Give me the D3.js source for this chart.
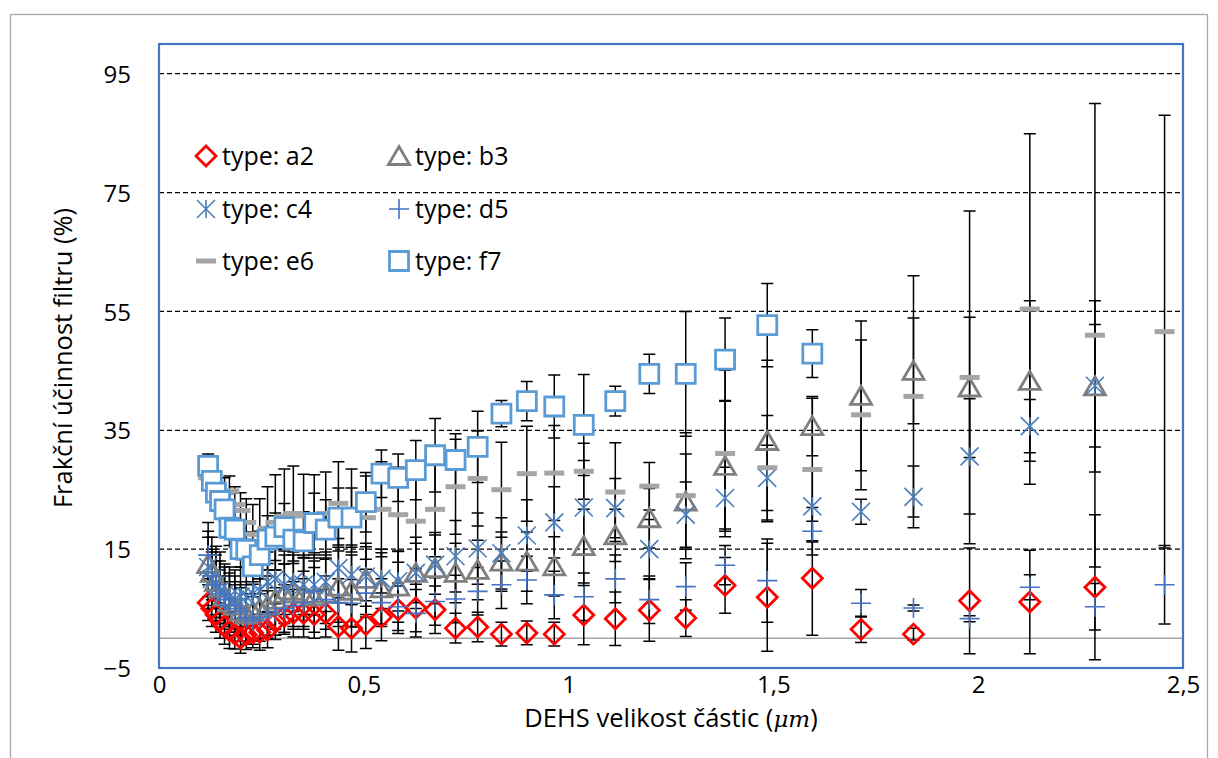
<!DOCTYPE html>
<html>
<head>
<meta charset="utf-8">
<script src="https://cdn.jsdelivr.net/npm/d3@7"></script>
<style>
  html, body { margin: 0; padding: 0; background: #fff; }
  svg { display: block; }
  text { font-family: "Open Sans", "Noto Sans", sans-serif; fill: #000; }
</style>
</head>
<body>
<svg id="chart" width="1218" height="758"></svg>
<script>
// Particle size channels (µm)
const sizes = [0.120,0.129,0.139,0.149,0.160,0.172,0.185,0.199,0.213,0.229,0.246,0.265,0.284,0.306,0.328,0.353,0.379,0.407,0.438,0.470,0.505,0.543,0.584,0.627,0.674,0.724,0.778,0.836,0.898,0.965,1.037,1.114,1.197,1.286,1.382,1.485,1.595,1.714,1.842,1.979,2.126,2.285,2.455];

// Fractional efficiency (%) per filter type, with error half-widths
const a2 = [6.0,5.0,4.0,3.0,2.0,1.3,0.7,0.0,0.6,0.9,1.0,1.4,2.8,3.7,4.2,4.2,4.0,4.2,2.0,1.7,2.3,3.6,4.8,5.1,4.8,1.7,1.9,0.7,0.9,0.7,3.9,3.3,4.7,3.4,8.9,6.9,10.1,1.5,0.7,6.3,6.1,8.6,null];
const a2Err = [3,3,3,3,3,3,2.5,2.5,2.5,2.5,3,3,3,3,4,4,4,4,4,4,4,4,4,4,4,2.5,2.5,2,2,2,5,4.5,5.2,3.1,4.7,9.1,9.6,2.2,1.0,8.9,8.7,12.2,null];

const b3 = [12.5,11.0,9.5,8.5,7.0,6.0,5.5,4.5,4.0,4.5,5.0,5.5,6.5,7.5,8.0,7.5,7.0,7.5,8.7,8.0,10.0,8.4,8.7,11.0,11.8,11.0,11.5,12.9,12.9,12.1,15.5,17.3,20.2,23.0,29.0,33.2,35.7,40.8,45.0,42.2,43.3,42.4,null];
const b3Err = [7,6,6,6,5,5,5,5,5,5,5,5,5,5,6,6,6,6,6,6,6,6,6,6,6,5,5,5,5,5,6.2,4.4,5,8,11,13.6,5,12.6,8.9,11.8,13.5,14.4,null];

const c4 = [12.0,10.0,9.0,8.0,7.5,7.0,6.5,7.0,7.0,7.5,8.0,9.5,10.0,9.0,9.5,9.0,9.0,9.5,11.8,10.7,10.4,10.0,9.6,11.0,12.4,13.8,15.1,14.3,17.3,19.5,22.0,21.9,15.0,20.8,23.6,27.0,22.2,21.3,23.8,30.6,35.7,42.5,null];
const c4Err = [5,5,5,5,5,5,5,5,5,5,5,5,5,5,5,5,5,5,5,5,5,5,5,5,5,6,6,6,6,6,7.9,5,5,5.5,5.2,5.5,6,2.1,5.2,9.7,4.5,10.3,null];

const d5 = [14.0,10.5,9.0,7.5,6.5,5.5,5.0,4.5,3.5,3.0,3.5,4.0,4.5,5.0,5.5,6.0,7.9,6.5,6.0,5.9,7.6,6.0,5.3,4.2,6.2,6.6,7.9,9.0,9.8,7.3,7.0,10.0,6.5,8.7,12.3,9.7,18.0,5.9,5.1,3.3,8.6,5.3,9.0];
const d5Err = [4,4,4,4,4,4,4,4,4,4,4,4,4,4,4,4,4,4,4,4,4,4,4,4,4,4,4,4,4,4,4,4,4,4,3.3,7,4,2.3,0.5,0.5,2.1,3.9,6.6];

const e6 = [27.0,25.5,24.5,24.0,24.5,24.8,22.5,21.5,19.5,17.5,17.5,18.5,19.5,20.5,21.0,20.6,20.5,21.0,22.7,21.5,20.3,21.7,20.8,19.7,21.7,25.5,26.9,25.0,27.7,27.8,28.1,24.6,25.6,24.0,31.1,28.7,28.4,37.6,40.7,43.9,55.4,51.0,51.6];
const e6Err = [2,2,2,2,2.5,2.5,3,3,4,5,6,7,8,8,8,7,7,7,7,7,7,8,8,8,8,8,8,8,8,8,4.7,8.3,4,10.6,14,8.8,12,12.6,20.3,28,29.5,39,36.4];

const f7 = [29.0,26.5,24.5,23.1,21.7,18.6,18.3,15.0,14.9,12.1,14.0,16.6,17.1,18.7,16.6,16.3,19.4,18.3,20.3,20.3,22.9,27.7,27.0,28.3,30.8,30.0,32.2,37.8,39.9,39.0,35.9,39.9,44.5,44.5,46.9,52.7,47.9,null,null,null,null,null,null];
const f7Err = [2,2,2,2,2,3,3,3,3,3,4,4,4,4,4,5,5,5,5,5,5,4,4,5,6.2,4.4,6,2.2,3.3,5.3,8.5,2.5,3.3,10.5,7,7,4,null,null,null,null,null,null];

const yTicks = [-5, 15, 35, 55, 75, 95];
const xTicks = [0, 0.5, 1, 1.5, 2, 2.5];

// Series appearance
const series = [
  { name: "type: a2", values: a2, err: a2Err, shape: "diamond",  color: "#FF0000", fill: "none" },
  { name: "type: b3", values: b3, err: b3Err, shape: "triangle", color: "#7F7F7F", fill: "none" },
  { name: "type: c4", values: c4, err: c4Err, shape: "star",     color: "#4A7EBB", fill: "none" },
  { name: "type: d5", values: d5, err: d5Err, shape: "plus",     color: "#4472C4", fill: "none" },
  { name: "type: e6", values: e6, err: e6Err, shape: "dash",     color: "#A5A5A5", fill: "none" },
  { name: "type: f7", values: f7, err: f7Err, shape: "square",   color: "#5B9BD5", fill: "#FFFFFF" }
];

const svg = d3.select("#chart");
const plot = { left: 159, right: 1183, top: 44, bottom: 668 };

const x = d3.scaleLinear().domain([0, 2.5]).range([plot.left, plot.right]);
const y = d3.scaleLinear().domain([-5, 100]).range([plot.bottom, plot.top]);

// Chart frame
svg.append("rect")
  .attr("x", 10.5).attr("y", 14.5).attr("width", 1197).attr("height", 760)
  .attr("fill", "#fff").attr("stroke", "#A6A6A6").attr("stroke-width", 1.3);

svg.append("defs").append("clipPath").attr("id", "plotClip")
  .append("rect")
  .attr("x", plot.left).attr("y", plot.top)
  .attr("width", plot.right - plot.left).attr("height", plot.bottom - plot.top);

// Horizontal dashed gridlines
svg.append("g")
  .selectAll("line")
  .data(yTicks.filter(t => t > -5))
  .join("line")
  .attr("x1", plot.left).attr("x2", plot.right)
  .attr("y1", d => y(d)).attr("y2", d => y(d))
  .attr("stroke", "#000").attr("stroke-width", 1.3)
  .attr("stroke-dasharray", "5,3");

// Zero line
svg.append("line")
  .attr("x1", plot.left).attr("x2", plot.right)
  .attr("y1", y(0)).attr("y2", y(0))
  .attr("stroke", "#A6A6A6").attr("stroke-width", 1.5);

// Axes (labels only; the frame is drawn separately)
const yAxis = d3.axisLeft(y).tickValues(yTicks).tickSize(0).tickPadding(0).tickFormat(d3.format("d"));
svg.append("g")
  .attr("transform", `translate(${plot.left - 28},0)`)
  .call(yAxis)
  .call(g => g.select(".domain").remove())
  .call(g => g.selectAll("text")
    .attr("font-size", 24).attr("font-family", "Open Sans").attr("fill", "#000")
    .attr("dy", "0.36em"));

const fmtX = d => d3.format(".1~f")(d).replace(".", ",");
const xAxis = d3.axisBottom(x).tickValues(xTicks).tickSize(0).tickPadding(0).tickFormat(fmtX);
svg.append("g")
  .attr("transform", `translate(0,${plot.bottom + 2})`)
  .call(xAxis)
  .call(g => g.select(".domain").remove())
  .call(g => g.selectAll("text")
    .attr("font-size", 24).attr("font-family", "Open Sans").attr("fill", "#000")
    .attr("dy", "0.95em"));

// Axis titles
svg.append("text")
  .attr("transform", `translate(72,358) rotate(-90)`)
  .attr("text-anchor", "middle")
  .attr("font-size", 25.5)
  .text("Frakční účinnost filtru (%)");

const xt = svg.append("text")
  .attr("x", 671).attr("y", 727)
  .attr("text-anchor", "middle")
  .attr("font-size", 25.5);
xt.append("tspan").text("DEHS velikost částic (");
xt.append("tspan").attr("font-style", "italic").attr("font-family", "DejaVu Serif").attr("font-size", 23).text("μm");
xt.append("tspan").text(")");

// Marker shapes centred on (0,0)
function markerPath(shape) {
  switch (shape) {
    case "diamond":  return "M0,-10L10,0L0,10L-10,0Z";
    case "triangle": return "M0,-9.5L10.5,8.5L-10.5,8.5Z";
    case "square":   return "M-9.5,-9.5H9.5V9.5H-9.5Z";
    case "plus":     return "M-10,0H10M0,-10V10";
    case "star":     return "M-9,-9L9,9M-9,9L9,-9M0,-9V9";
    case "dash":     return "M-10,0H10";
  }
}
function drawMarker(g, s) {
  const p = g.append("path").attr("d", markerPath(s.shape));
  if (s.shape === "dash") {
    p.attr("fill", "none").attr("stroke", s.color).attr("stroke-width", 5);
  } else if (s.shape === "plus" || s.shape === "star") {
    p.attr("fill", "none").attr("stroke", s.color).attr("stroke-width", 1.6);
  } else {
    p.attr("fill", s.fill).attr("stroke", s.color).attr("stroke-width", 2.8)
     .attr("stroke-linejoin", "miter");
  }
  return p;
}

const plotG = svg.append("g").attr("clip-path", "url(#plotClip)");

// Error bars for every series
const capW = 6;
series.forEach(s => {
  const pts = sizes.map((sz, i) => ({ sz, v: s.values[i], e: s.err[i] }))
    .filter(d => d.v !== null && d.e !== null);
  const eg = plotG.append("g").attr("stroke", "#000").attr("stroke-width", 1.5).attr("fill", "none");
  eg.selectAll("path")
    .data(pts)
    .join("path")
    .attr("d", d => {
      const cx = x(d.sz), y1 = y(d.v + d.e), y2 = y(d.v - d.e);
      return `M${cx},${y1}V${y2}M${cx - capW},${y1}H${cx + capW}M${cx - capW},${y2}H${cx + capW}`;
    });
});

// Markers
series.forEach(s => {
  const pts = sizes.map((sz, i) => ({ sz, v: s.values[i] })).filter(d => d.v !== null);
  const mg = plotG.append("g");
  pts.forEach(d => {
    const g = mg.append("g").attr("transform", `translate(${x(d.sz)},${y(d.v)})`);
    drawMarker(g, s);
  });
});

// Plot area border
svg.append("rect")
  .attr("x", plot.left).attr("y", plot.top)
  .attr("width", plot.right - plot.left).attr("height", plot.bottom - plot.top)
  .attr("fill", "none").attr("stroke", "#4472C4").attr("stroke-width", 2.2);

// Legend: two columns, three rows
const legendCols = [206, 399];
const legendRows = [156, 209, 261];
series.forEach((s, i) => {
  const cx = legendCols[i % 2], cy = legendRows[Math.floor(i / 2)];
  const g = svg.append("g").attr("transform", `translate(${cx},${cy})`);
  drawMarker(g, s);
  g.append("text").attr("x", 16).attr("y", 0).attr("dy", "0.36em")
    .attr("font-size", 25).text(s.name);
});
</script>
</body>
</html>
